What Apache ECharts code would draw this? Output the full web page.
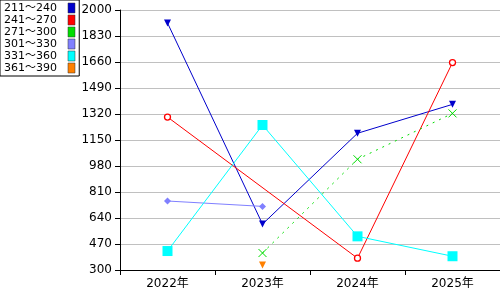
<!DOCTYPE html>
<html><head><meta charset="utf-8">
<script src="https://cdn.jsdelivr.net/npm/echarts@6/dist/echarts.min.js"></script>
<style>html,body{margin:0;padding:0;background:#fff}#c{width:500px;height:300px}</style>
</head><body><div id="c"></div>
<script>
const categories = ['2022年', '2023年', '2024年', '2025年'];
const seriesNames = ['211～240', '241～270', '271～300', '301～330', '331～360', '361～390'];
const s211 = [1915, 600, 1194, 1383];
const s241 = [1300, null, 377, 1656];
const s271 = [null, 411, 1024, 1324];
const s301 = [751, 716, null, null];
const s331 = [424, 1248, 520, 390];
const s361 = [null, 333, null, null];
const yTicks = { min: 300, max: 2000, step: 170 };

const colors = ['#0000cc', '#ff0000', '#00dd00', '#8080ff', '#00ffff', '#ff8000'];
const legendColors = ['#0000cc', '#ff0000', '#00dd00', '#8080ff', '#00ffff', '#ff8000'];
const font = '"DejaVu Sans", "Noto Sans CJK JP", sans-serif';

const chart = echarts.init(document.getElementById('c'), null, { renderer: 'canvas' });
function mk(i, data, symbol, size, extra) {
  return Object.assign({
    name: seriesNames[i], type: 'line', data: data, connectNulls: true,
    symbol: symbol, symbolSize: size, animation: false,
    lineStyle: { color: colors[i], width: 1 },
    itemStyle: { color: colors[i] },
    emphasis: { disabled: true }
  }, extra || {});
}
chart.setOption({
  animation: false,
  backgroundColor: '#fff',
  grid: { left: 120, right: 0, top: 10, bottom: 30 },
  legend: {
    orient: 'vertical', left: 0, top: 0, align: 'right',
    padding: [2, 4, 2, 4], itemGap: 0, itemWidth: 7, itemHeight: 10,
    borderColor: '#000', borderWidth: 1, backgroundColor: '#fff',
    icon: 'rect',
    textStyle: { fontFamily: font, fontSize: 11, lineHeight: 12, color: '#000', padding: [0, 6, 0, 0] },
    data: seriesNames.map((n, i) => ({ name: n, icon: 'rect', itemStyle: { color: legendColors[i], borderColor: '#333', borderWidth: 0.5 } }))
  },
  xAxis: {
    type: 'category', data: categories, boundaryGap: true,
    axisLine: { lineStyle: { color: '#000', width: 1 } },
    axisTick: { show: true, length: 5, lineStyle: { color: '#000' } },
    axisLabel: { fontFamily: font, fontSize: 12, color: '#000', margin: 8 },
    splitLine: { show: false }
  },
  yAxis: {
    type: 'value', min: yTicks.min, max: yTicks.max, interval: yTicks.step,
    axisLine: { show: true, lineStyle: { color: '#000', width: 1 } },
    axisTick: { show: true, length: 5, lineStyle: { color: '#000' } },
    axisLabel: { fontFamily: font, fontSize: 12, color: '#000', margin: 8, formatter: v => String(v) },
    splitLine: { show: true, lineStyle: { color: '#c0c0c0', width: 1 } }
  },
  series: [
    mk(0, s211, 'triangle', 7, { symbolRotate: 180 }),
    mk(1, s241, 'circle', 6, { itemStyle: { color: '#fff', borderColor: '#ff0000', borderWidth: 1.3 } }),
    mk(2, s271, 'path://M0,0L10,10M10,0L0,10', 8, {
      lineStyle: { color: '#00dd00', width: 1, type: [2, 5] },
      itemStyle: { color: 'rgba(0,0,0,0)', borderColor: '#00dd00', borderWidth: 1 }
    }),
    mk(3, s301, 'diamond', 7),
    mk(4, s331, 'rect', 10),
    mk(5, s361, 'triangle', 7, { symbolRotate: 180 })
  ]
});
</script></body></html>
